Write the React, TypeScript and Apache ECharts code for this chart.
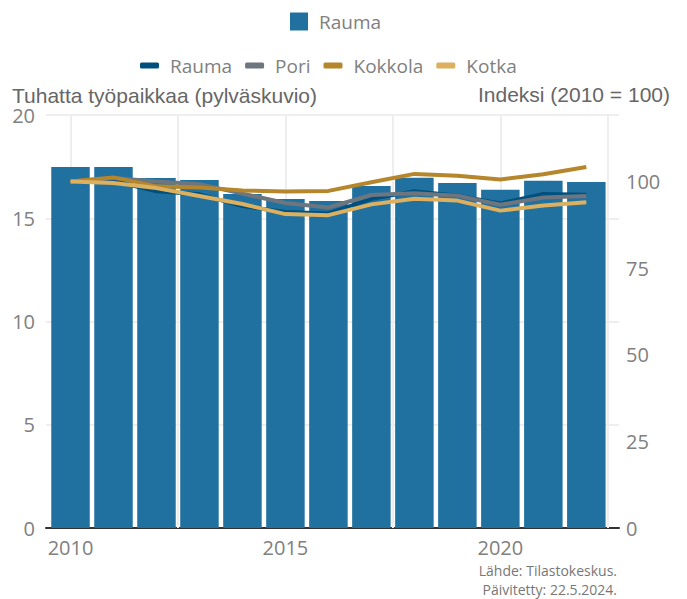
import React, { useEffect, useRef } from "react";
import * as echarts from "echarts";

const years = [2010, 2011, 2012, 2013, 2014, 2015, 2016, 2017, 2018, 2019, 2020, 2021, 2022];
const raumaJobs = [17.48, 17.48, 16.95, 16.85, 16.17, 15.93, 15.84, 16.56, 16.96, 16.71, 16.38, 16.82, 16.76];
const raumaIndex = [100, 100.1, 97.2, 96.3, 92.9, 91.2, 90.8, 95.0, 97.2, 95.9, 93.7, 96.4, 96.2];
const poriIndex = [100, 101.0, 100.0, 99.2, 96.5, 93.8, 92.5, 96.1, 96.6, 95.9, 93.3, 95.4, 95.8];
const kokkolaIndex = [100, 101.2, 98.6, 98.3, 97.4, 97.1, 97.3, 99.8, 102.2, 101.7, 100.6, 102.1, 104.2];
const kotkaIndex = [100, 99.6, 98.1, 95.8, 93.5, 90.6, 90.3, 93.4, 95.0, 94.5, 91.6, 93.1, 94.0];

const xLabelYears = [2010, 2015, 2020];
const xGridYears = [2010, 2012.5, 2015, 2017.5, 2020, 2022.5];
const rightTicks = [0, 25, 50, 75, 100];

const barName = "Rauma";
const lineNames = ["Rauma", "Pori", "Kokkola", "Kotka"];
const lineColors = ["#00507f", "#6d757f", "#b5862b", "#dcb05f"];
const lineData = [raumaIndex, poriIndex, kokkolaIndex, kotkaIndex];

const leftTitle = "Tuhatta työpaikkaa (pylväskuvio)";
const rightTitle = "Indeksi (2010 = 100)";
const sourceLines = ["Lähde: Tilastokeskus.", "Päivitetty: 22.5.2024."];

const LINE_SUFFIX = "\u200b";

export default function App() {
  const ref = useRef<HTMLDivElement>(null);
  useEffect(() => {
    document.body.style.margin = "0";
    const chart = echarts.init(ref.current!, null, { renderer: "svg" });
    const labelFont = "'Open Sans', Lato, sans-serif";
    const option: any = {
      animation: false,
      backgroundColor: "#ffffff",
      grid: { left: 46, right: 68, top: 115, bottom: 71, containLabel: false },
      legend: [
        {
          data: [barName],
          left: 285,
          top: 7,
          icon: "rect",
          itemWidth: 18,
          itemHeight: 18,
          textStyle: { fontFamily: labelFont, fontSize: 19, color: "#808080", padding: [0, 0, 0, 6] },
        },
        {
          data: lineNames.map((n) => n + LINE_SUFFIX),
          left: 135,
          top: 51,
          icon: "roundRect",
          itemWidth: 19,
          itemHeight: 6,
          itemGap: 13,
          formatter: (n: string) => n.replace(LINE_SUFFIX, ""),
          textStyle: { fontFamily: labelFont, fontSize: 19, color: "#808080", padding: [0, 0, 0, 6] },
        },
      ],
      xAxis: {
        type: "value",
        min: 2009.43,
        max: 2022.76,
        axisLine: { show: true, lineStyle: { color: "#333333", width: 2 } },
        axisTick: { show: false },
        splitLine: { show: false },
        axisLabel: {
          customValues: xLabelYears,
          formatter: (v: number) => String(v),
          fontFamily: labelFont,
          fontSize: 20,
          color: "#808080",
          margin: 9,
        },
      },
      yAxis: [
        {
          type: "value",
          min: 0,
          max: 20,
          interval: 5,
          axisLine: { show: false },
          axisTick: { show: false },
          splitLine: { show: true, lineStyle: { color: "#eeeeee", width: 2 } },
          axisLabel: { fontFamily: labelFont, fontSize: 20, color: "#808080", margin: 11 },
        },
        {
          type: "value",
          min: 0,
          max: 119.2,
          interval: 25,
          alignTicks: false,
          axisLine: { show: false },
          axisTick: { show: false },
          splitLine: { show: false },
          axisLabel: {
            fontFamily: labelFont,
            fontSize: 20,
            color: "#808080",
            margin: 7,
            formatter: (v: number) => (rightTicks.indexOf(v) >= 0 ? String(v) : ""),
          },
        },
      ],
      series: [
        {
          name: barName,
          type: "bar",
          xAxisIndex: 0,
          yAxisIndex: 0,
          barWidth: 38.5,
          itemStyle: { color: "#2171a0" },
          data: years.map((y, i) => [y, raumaJobs[i]]),
          z: 2,
          markLine: {
            silent: true,
            symbol: ["none", "none"],
            label: { show: false },
            z: 1,
            lineStyle: { color: "#eeeeee", width: 2, type: "solid" },
            data: xGridYears.map((x) => ({ xAxis: x })),
          },
        },
        ...lineNames.map((n, k) => ({
          name: n + LINE_SUFFIX,
          type: "line",
          xAxisIndex: 0,
          yAxisIndex: 1,
          symbol: "none",
          z: 3 + k,
          lineStyle: { color: lineColors[k], width: 4 },
          itemStyle: { color: lineColors[k] },
          data: years.map((y, i) => [y, lineData[k][i]]),
        })),
      ],
      graphic: [
        {
          type: "text",
          left: 12,
          top: 85,
          style: { text: leftTitle, font: "21px 'Liberation Sans', Arial, sans-serif", fill: "#666666" },
        },
        {
          type: "text",
          right: 17,
          top: 84,
          style: { text: rightTitle, font: "21px 'Liberation Sans', Arial, sans-serif", fill: "#666666" },
        },
        {
          type: "text",
          right: 70,
          top: 563,
          style: { text: sourceLines[0], font: "14px 'Open Sans', sans-serif", fill: "#777777", align: "right", lineHeight: 15 },
        },
        {
          type: "text",
          right: 70,
          top: 582,
          style: { text: sourceLines[1], font: "14px 'Open Sans', sans-serif", fill: "#777777", align: "right", lineHeight: 15 },
        },
      ],
    };
    chart.setOption(option);
    return () => chart.dispose();
  }, []);
  return <div ref={ref} style={{ width: 687, height: 599 }} />;
}
